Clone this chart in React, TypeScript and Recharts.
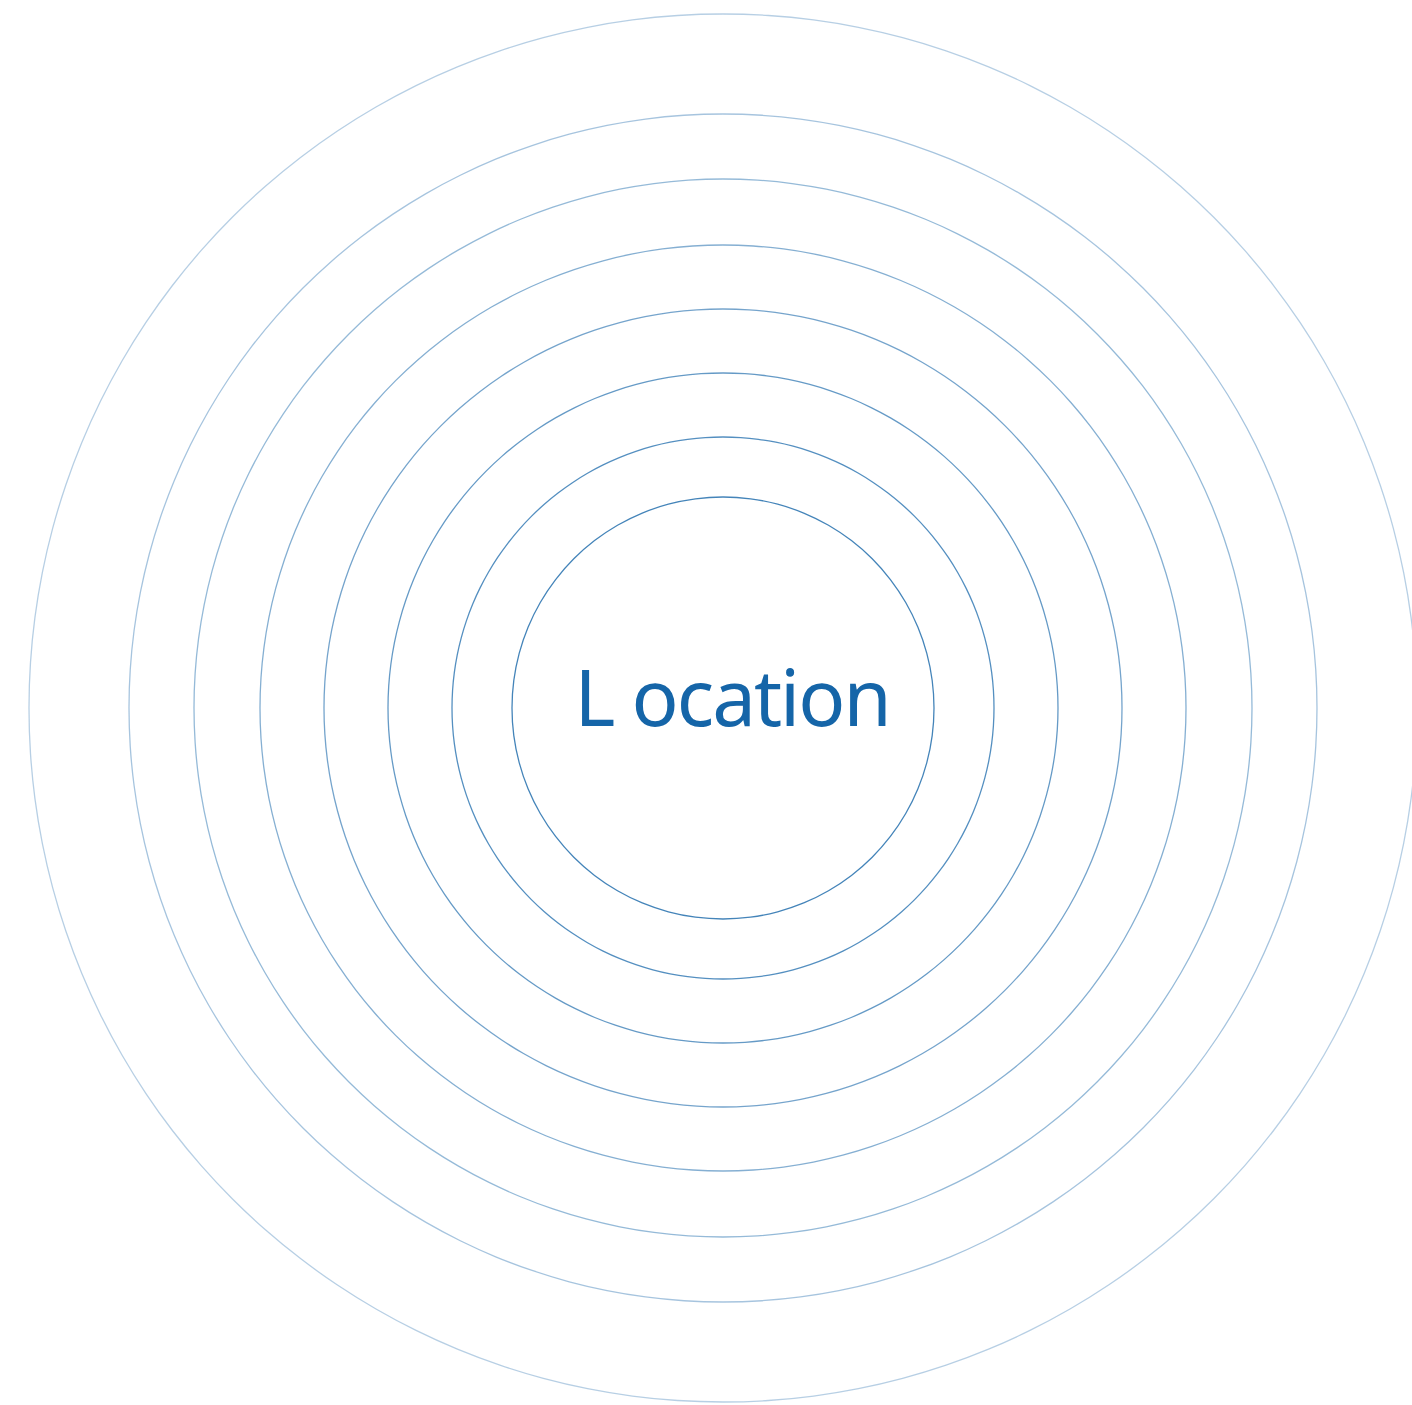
import { PieChart, Pie, Cell } from "recharts"

// ring distances, innermost first
const rings = [211, 271, 335, 399, 463, 529, 594, 694]
const centerLabel = "L ocation"

const ringColor = "#1565a8"

export default function App() {
    return (
        <div style={{ position: "absolute", left: 0, top: 0, width: 1412, height: 1405 }}>
            <PieChart width={1412} height={1405} margin={{ top: 0, right: 0, bottom: 0, left: 0 }}>
                {rings.map((r, i) => (
                    <Pie
                        key={"ring" + i}
                        data={[{ name: "ring" + (i + 1), value: r }]}
                        dataKey="value"
                        cx={723}
                        cy={708}
                        innerRadius={r - 0.65}
                        outerRadius={r + 0.65}
                        startAngle={90}
                        endAngle={-270}
                        stroke="none"
                        isAnimationActive={false}
                    >
                        <Cell fill={ringColor} fillOpacity={0.8 - i * 0.07} />
                    </Pie>
                ))}
            </PieChart>
            <svg
                width={1412}
                height={1405}
                style={{ position: "absolute", left: 0, top: 0, pointerEvents: "none" }}
            >
                <text
                    x={732}
                    y={726}
                    textAnchor="middle"
                    fill="#1565a8"
                    fontFamily="'Noto Sans', sans-serif"
                    fontSize={78}
                    letterSpacing={-2}
                >
                    {centerLabel}
                </text>
            </svg>
        </div>
    )
}
